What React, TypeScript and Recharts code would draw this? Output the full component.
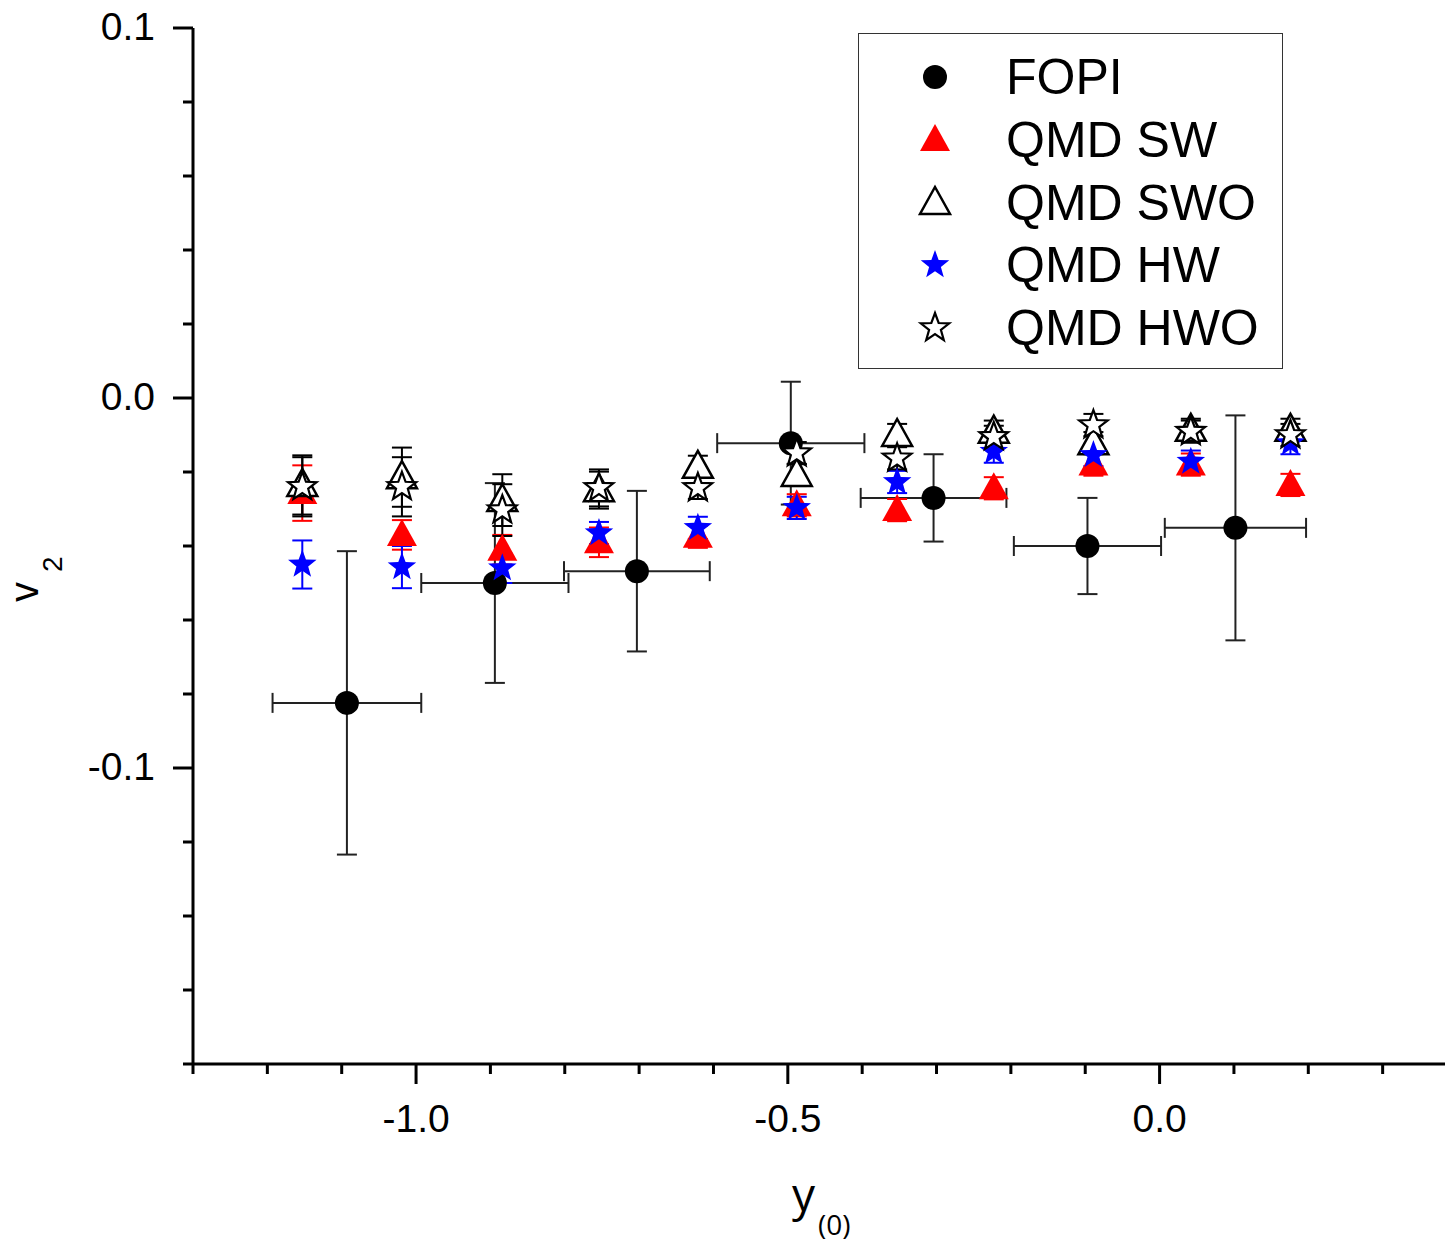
import { ScatterChart, Scatter, XAxis, YAxis, ErrorBar, Legend } from "recharts";

// FOPI data (rapidity bins with x and y errors)
const FOPI_X = [-1.093, -0.894, -0.703, -0.496, -0.304, -0.097, 0.102];
const FOPI_Y = [-0.0824, -0.05, -0.0468, -0.0122, -0.027, -0.04, -0.0351];
const FOPI_XERR = [0.1, 0.099, 0.098, 0.099, 0.098, 0.099, 0.095];
const FOPI_YERR = [0.041, 0.027, 0.0217, 0.0166, 0.0118, 0.013, 0.0304];

// QMD calculations
const MODEL_X = [-1.153, -1.019, -0.884, -0.754, -0.621, -0.488, -0.353, -0.223, -0.089, 0.042, 0.176];
const SW_Y = [-0.0257, -0.037, -0.041, -0.039, -0.0375, -0.029, -0.0303, -0.0244, -0.018, -0.018, -0.0235];
const SW_ERR = [0.0075, 0.004, 0.004, 0.004, 0.003, 0.003, 0.003, 0.003, 0.003, 0.003, 0.003];
const SWO_Y = [-0.0235, -0.0214, -0.0276, -0.0249, -0.0186, -0.0208, -0.01, -0.0091, -0.0122, -0.0086, -0.0086];
const SWO_ERR = [0.008, 0.008, 0.007, 0.005, 0.003, 0.003, 0.003, 0.003, 0.003, 0.003, 0.003];
const HW_Y = [-0.045, -0.0457, -0.046, -0.0365, -0.0351, -0.0297, -0.0227, -0.0145, -0.0154, -0.0172, -0.0122];
const HW_ERR = [0.0065, 0.0057, 0.004, 0.003, 0.003, 0.003, 0.003, 0.003, 0.003, 0.003, 0.003];
const HWO_Y = [-0.024, -0.024, -0.0303, -0.0243, -0.0243, -0.0149, -0.0163, -0.0105, -0.0073, -0.0091, -0.01];
const HWO_ERR = [0.008, 0.008, 0.007, 0.005, 0.003, 0.003, 0.003, 0.003, 0.003, 0.003, 0.003];

// axes
const X_TICKS = [-1.3, -1.2, -1.1, -1.0, -0.9, -0.8, -0.7, -0.6, -0.5, -0.4, -0.3, -0.2, -0.1, 0, 0.1, 0.2, 0.3, 0.4];
const X_MAJOR: Record<string, string> = { "-1.00": "-1.0", "-0.50": "-0.5", "0.00": "0.0" };
const Y_TICKS = [0.1, 0.08, 0.06, 0.04, 0.02, 0, -0.02, -0.04, -0.06, -0.08, -0.1, -0.12, -0.14, -0.16, -0.18];
const Y_MAJOR: Record<string, string> = { "0.10": "0.1", "0.00": "0.0", "-0.10": "-0.1" };

const FONT = '"Liberation Sans", Arial, sans-serif';

const fopiData = FOPI_X.map((x, i) => ({ x, y: FOPI_Y[i], ex: FOPI_XERR[i], ey: FOPI_YERR[i] }));
const model = (ys: number[], errs: number[]) => MODEL_X.map((x, i) => ({ x, y: ys[i], ey: errs[i] }));

const starPath = (cx: number, cy: number, R = 15, r = 6.2) => {
  let d = "";
  for (let k = 0; k < 10; k++) {
    const a = -Math.PI / 2 + (k * Math.PI) / 5;
    const rad = k % 2 === 0 ? R : r;
    d += (k === 0 ? "M" : "L") + (cx + rad * Math.cos(a)).toFixed(2) + "," + (cy + rad * Math.sin(a)).toFixed(2);
  }
  return d + "Z";
};
const triPath = (cx: number, cy: number) =>
  `M${cx},${cy - 16} L${cx + 15},${cy + 11} L${cx - 15},${cy + 11} Z`;

const Dot = (p: any) => <circle cx={p.cx} cy={p.cy} r={12} fill="#000" />;
const RedTri = (p: any) => <path d={triPath(p.cx, p.cy)} fill="#ff0000" />;
const OpenTri = (p: any) => <path d={triPath(p.cx, p.cy)} fill="#fff" stroke="#000" strokeWidth={2.5} />;
const BlueStar = (p: any) => <path d={starPath(p.cx, p.cy)} fill="#0000ff" />;
const OpenStar = (p: any) => <path d={starPath(p.cx, p.cy)} fill="#fff" stroke="#000" strokeWidth={2.2} />;

const LEGEND_ITEMS = [
  { name: "FOPI", shape: Dot },
  { name: "QMD SW", shape: RedTri },
  { name: "QMD SWO", shape: OpenTri },
  { name: "QMD HW", shape: BlueStar },
  { name: "QMD HWO", shape: OpenStar },
];

const key = (v: number) => v.toFixed(2);

function BottomTick(props: any) {
  const { x, y, payload } = props;
  const label = X_MAJOR[key(payload.value)];
  return (
    <g>
      <line x1={x} y1={y} x2={x} y2={y + (label ? 20 : 10)} stroke="#000" strokeWidth={3} />
      {label && (
        <text x={x} y={y + 68} textAnchor="middle" fontSize={39} fontFamily={FONT} fill="#000">
          {label}
        </text>
      )}
    </g>
  );
}

function TopTick(props: any) {
  const { x, y, payload } = props;
  const major = !!X_MAJOR[key(payload.value)];
  return <line x1={x} y1={y} x2={x} y2={y + (major ? 20 : 11)} stroke="#000" strokeWidth={3} />;
}

function LeftTick(props: any) {
  const { x, y, payload } = props;
  const label = Y_MAJOR[key(payload.value)];
  return (
    <g>
      <line x1={x - (label ? 20 : 10)} y1={y} x2={x} y2={y} stroke="#000" strokeWidth={3} />
      {label && (
        <text x={x - 38} y={y + 12} textAnchor="end" fontSize={39} fontFamily={FONT} fill="#000">
          {label}
        </text>
      )}
    </g>
  );
}

function RightTick(props: any) {
  const { x, y, payload } = props;
  const major = !!Y_MAJOR[key(payload.value)];
  return <line x1={x - (major ? 20 : 10)} y1={y} x2={x} y2={y} stroke="#000" strokeWidth={3} />;
}

function XTitle() {
  return (
    <text x={792} y={1211} fontSize={46} fontFamily='"Open Sans", sans-serif' fill="#000">
      y
      <tspan fontSize={28} dy={24} dx={3}>
        (0)
      </tspan>
    </text>
  );
}

function YTitle() {
  return (
    <text transform="translate(38,602) rotate(-90)" fontSize={40} fontFamily={FONT} fill="#000">
      v
      <tspan fontSize={28} dy={24} dx={10}>
        2
      </tspan>
    </text>
  );
}

function LegendBox() {
  return (
    <div
      style={{
        width: 425,
        height: 336,
        border: "1.5px solid #333",
        boxSizing: "border-box",
        background: "#fff",
        position: "relative",
        fontFamily: FONT,
      }}
    >
      {LEGEND_ITEMS.map((item, i) => {
        const Shape = item.shape;
        return (
          <div
            key={item.name}
            style={{ position: "absolute", left: 0, top: 13 + i * 62.8, height: 60, width: "100%" }}
          >
            <svg width={40} height={40} style={{ position: "absolute", left: 56, top: 10 }}>
              <Shape cx={20} cy={20} />
            </svg>
            <span
              style={{
                position: "absolute",
                left: 147,
                top: 0,
                lineHeight: "60px",
                fontSize: 50,
                color: "#000",
                whiteSpace: "nowrap",
              }}
            >
              {item.name}
            </span>
          </div>
        );
      })}
    </div>
  );
}

export default function App() {
  const axisLine = { stroke: "#000", strokeWidth: 3 };
  return (
    <div
      style={{
        position: "absolute",
        left: 0,
        top: 0,
        width: 1445,
        height: 1244,
        overflow: "hidden",
        background: "#fff",
      }}
    >
      <ScatterChart width={1470} height={1244} margin={{ top: 28, right: 13, bottom: 120, left: 93 }}>
        <XAxis
          type="number"
          dataKey="x"
          domain={[-1.3, 0.4]}
          allowDataOverflow
          ticks={X_TICKS}
          interval={0}
          tickSize={0}
          tickMargin={0}
          tickLine={false}
          axisLine={axisLine}
          tick={BottomTick}
          height={60}
          label={<XTitle />}
        />
        <XAxis
          xAxisId="top"
          orientation="top"
          mirror
          type="number"
          domain={[-1.3, 0.4]}
          allowDataOverflow
          ticks={X_TICKS}
          interval={0}
          tickSize={0}
          tickMargin={0}
          tickLine={false}
          axisLine={axisLine}
          tick={TopTick}
          height={0}
        />
        <YAxis
          type="number"
          dataKey="y"
          domain={[-0.18, 0.1]}
          allowDataOverflow
          ticks={Y_TICKS}
          interval={0}
          tickSize={0}
          tickMargin={0}
          tickLine={false}
          axisLine={axisLine}
          tick={LeftTick}
          width={100}
          label={<YTitle />}
        />
        <YAxis
          yAxisId="right"
          orientation="right"
          mirror
          type="number"
          domain={[-0.18, 0.1]}
          allowDataOverflow
          ticks={Y_TICKS}
          interval={0}
          tickSize={0}
          tickMargin={0}
          tickLine={false}
          axisLine={axisLine}
          tick={RightTick}
          width={0}
        />
        <Legend
          layout="vertical"
          align="center"
          verticalAlign="middle"
          wrapperStyle={{ left: 858, top: 33, width: 425 }}
          content={LegendBox}
        />
        <Scatter name="FOPI" data={fopiData} shape={Dot} isAnimationActive={false}>
          <ErrorBar dataKey="ey" direction="y" width={10} stroke="#222" strokeWidth={2} />
          <ErrorBar dataKey="ex" direction="x" width={10} stroke="#222" strokeWidth={2} />
        </Scatter>
        <Scatter name="QMD SW" data={model(SW_Y, SW_ERR)} shape={RedTri} isAnimationActive={false}>
          <ErrorBar dataKey="ey" direction="y" width={10} stroke="#ff0000" strokeWidth={2} />
        </Scatter>
        <Scatter name="QMD SWO" data={model(SWO_Y, SWO_ERR)} shape={OpenTri} isAnimationActive={false}>
          <ErrorBar dataKey="ey" direction="y" width={10} stroke="#000" strokeWidth={2} />
        </Scatter>
        <Scatter name="QMD HW" data={model(HW_Y, HW_ERR)} shape={BlueStar} isAnimationActive={false}>
          <ErrorBar dataKey="ey" direction="y" width={10} stroke="#0000ff" strokeWidth={2} />
        </Scatter>
        <Scatter name="QMD HWO" data={model(HWO_Y, HWO_ERR)} shape={OpenStar} isAnimationActive={false}>
          <ErrorBar dataKey="ey" direction="y" width={10} stroke="#000" strokeWidth={2} />
        </Scatter>
      </ScatterChart>
    </div>
  );
}
